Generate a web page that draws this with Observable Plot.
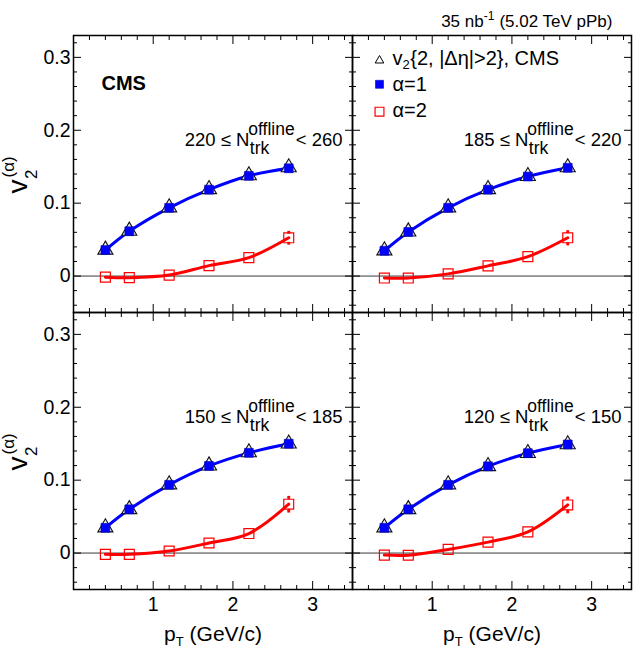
<!DOCTYPE html>
<html>
<head>
<meta charset="utf-8">
<script src="https://cdn.jsdelivr.net/npm/d3@7"></script>
<script src="https://cdn.jsdelivr.net/npm/@observablehq/plot@0.6"></script>
<style>
  html, body { margin: 0; padding: 0; background: #fff; }
  #chart { width: 637px; height: 648px; }
</style>
</head>
<body>
<div id="chart"></div>
<script>
// ---------------- data ----------------
const pT = [0.4, 0.7, 1.2, 1.7, 2.2, 2.7];
const nLow = [220, 185, 150, 120];
const nHigh = [260, 220, 185, 150];

// v2{2, |Δη|>2} CMS (triangles)
const v2CMS = [
  [0.036, 0.062, 0.094, 0.119, 0.138, 0.149],
  [0.035, 0.061, 0.094, 0.119, 0.137, 0.149],
  [0.035, 0.060, 0.094, 0.120, 0.138, 0.150],
  [0.035, 0.060, 0.094, 0.119, 0.137, 0.149]
];
// alpha = 1 (filled blue squares)
const v2Alpha1 = [
  [0.0357, 0.0615, 0.0936, 0.1185, 0.1375, 0.1478],
  [0.0347, 0.0605, 0.0936, 0.1185, 0.1365, 0.1485],
  [0.0346, 0.0600, 0.0936, 0.1195, 0.1375, 0.1500],
  [0.0346, 0.0600, 0.0936, 0.1190, 0.1370, 0.1490]
];
// alpha = 2 (open red squares)
const v2Alpha2 = [
  [-0.0015, -0.0022, 0.0013, 0.0143, 0.0252, 0.0525],
  [-0.0027, -0.0027, 0.0030, 0.0140, 0.0266, 0.0525],
  [-0.0018, -0.0018, 0.0028, 0.0138, 0.0268, 0.0670],
  [-0.0028, -0.0030, 0.0050, 0.0150, 0.0290, 0.0660]
];
const v2Alpha2Err = [
  [0.001, 0.001, 0.001, 0.002, 0.003, 0.0075],
  [0.001, 0.001, 0.001, 0.002, 0.003, 0.0085],
  [0.001, 0.001, 0.001, 0.002, 0.003, 0.0095],
  [0.001, 0.001, 0.001, 0.002, 0.003, 0.0095]
];

const xMajorTicks = [1, 2, 3];
const xTickLabels = ["1", "2", "3"];
const yMajorTicks = [0, 0.1, 0.2, 0.3];
const yTickLabels = ["0", "0.1", "0.2", "0.3"];

// ---------------- helpers ----------------
const FAMILY = '"Liberation Sans", Arial, Helvetica, sans-serif';
const ctx = document.createElement("canvas").getContext("2d");
function tw(text, size, weight = "normal") {
  ctx.font = `${weight} ${size}px ${FAMILY}`;
  return ctx.measureText(text).width;
}

// minor ticks
const xMinorTicks = d3.range(1, 18).map(k => +(k * 0.2).toFixed(2)).filter(v => Math.abs(v - Math.round(v)) > 1e-6);
const yMinorTicks = d3.range(-2, 17).map(k => +(k * 0.02).toFixed(2)).filter(v => Math.abs(v * 10 - Math.round(v * 10)) > 1e-6);

// ---------------- tables ----------------
const rows = [];
nLow.forEach((lo, i) => {
  pT.forEach((x, j) => rows.push({
    panel: i, col: i % 2, row: Math.floor(i / 2), pt: x,
    cms: v2CMS[i][j], a1: v2Alpha1[i][j], a2: v2Alpha2[i][j], e2: v2Alpha2Err[i][j]
  }));
});
const errRows = rows.filter(d => d.e2 > 0.006);

const panels = nLow.map((lo, i) => ({
  col: i % 2, row: Math.floor(i / 2),
  main: `${lo} \u2264 N`, end: `< ${nHigh[i]}`
}));
const topLeft = [{col: 0, row: 0}];
const topRight = [{col: 1, row: 0}];
const leftCol = [{col: 0, row: 0}, {col: 0, row: 1}];
const bottomRow = [{col: 0, row: 1}, {col: 1, row: 1}];

// ---------------- label geometry ----------------
const FS_LAB = 18.5, FS_SUP = 17.5;
const wMain = tw("220 \u2264 N", FS_LAB);
const wSup = tw("offline", FS_SUP);
const wEnd = tw("< 260", FS_LAB);
const labRight = -10;
const labStart = labRight - (wMain + wSup + wEnd);
const labBase = 110;

const FS_X = 21, FS_XS = 13;
const wp = tw("p", FS_X), wT = tw("T", FS_XS), wG = tw(" (GeV/c)", FS_X);
const xTot = wp + wT + wG;

const FS_V = 28, FS_VS = 17;
const wv = tw("v", FS_V);
const vStart = 158;

const FS_LEG = 20, FS_LEGS = 13;
const wLv = tw("v", FS_LEG), wL2 = tw("2", FS_LEGS);

const FS_TOP = 17, FS_TOPS = 12;
const wTopB = tw(" (5.02 TeV pPb)", FS_TOP);
const wTopS = tw("-1", FS_TOPS);
const topRightX = -19, topBase = -9;

const fac = {fx: "col", fy: "row"};

const chart = Plot.plot({
  width: 637,
  height: 648,
  marginLeft: 72,
  marginRight: 6,
  marginTop: 34.5,
  marginBottom: 59,
  x: {domain: [0, 3.5], axis: null},
  y: {domain: [-0.05, 0.33], axis: null},
  fx: {padding: 0, axis: null},
  fy: {padding: 0, axis: null},
  style: {fontFamily: FAMILY, background: "white", overflow: "visible"},
  marks: [
    Plot.ruleY([0], {stroke: "#3a3a3a", strokeWidth: 1}),

    // ticks on all four sides of every panel (pointing inward)
    Plot.axisX({anchor: "bottom", ticks: xMajorTicks, tickSize: -8, fill: "none", stroke: "black", facetAnchor: null, label: null}),
    Plot.axisX({anchor: "bottom", ticks: xMinorTicks, tickSize: -4, fill: "none", stroke: "black", facetAnchor: null, label: null}),
    Plot.axisX({anchor: "top", ticks: xMajorTicks, tickSize: -8, fill: "none", stroke: "black", facetAnchor: null, label: null}),
    Plot.axisX({anchor: "top", ticks: xMinorTicks, tickSize: -4, fill: "none", stroke: "black", facetAnchor: null, label: null}),
    Plot.axisY({anchor: "left", ticks: yMajorTicks, tickSize: -8, fill: "none", stroke: "black", facetAnchor: null, label: null}),
    Plot.axisY({anchor: "left", ticks: yMinorTicks, tickSize: -4, fill: "none", stroke: "black", facetAnchor: null, label: null}),
    Plot.axisY({anchor: "right", ticks: yMajorTicks, tickSize: -8, fill: "none", stroke: "black", facetAnchor: null, label: null}),
    Plot.axisY({anchor: "right", ticks: yMinorTicks, tickSize: -4, fill: "none", stroke: "black", facetAnchor: null, label: null}),

    // tick labels
    Plot.axisX({anchor: "bottom", ticks: xMajorTicks, tickSize: 0, tickPadding: 8, fontSize: 19.5, label: null,
      tickFormat: d => xTickLabels[xMajorTicks.indexOf(d)]}),
    Plot.axisY({anchor: "left", ticks: yMajorTicks, tickSize: 0, tickPadding: 3, fontSize: 19.5, label: null,
      tickFormat: d => yTickLabels[yMajorTicks.indexOf(d)]}),

    // curves
    Plot.line(rows, {x: "pt", y: "a1", z: "panel", ...fac, stroke: "#0000ff", strokeWidth: 3, curve: "catmull-rom"}),
    Plot.line(rows, {x: "pt", y: "a2", z: "panel", ...fac, stroke: "#ff0000", strokeWidth: 3, curve: "catmull-rom"}),

    // error bars (alpha = 2)
    Plot.ruleX(errRows, {x: "pt", y1: d => d.a2 + d.e2, y2: "a2", insetBottom: 5, ...fac, stroke: "#ff0000", strokeWidth: 2}),
    Plot.ruleX(errRows, {x: "pt", y1: "a2", y2: d => d.a2 - d.e2, insetTop: 5, ...fac, stroke: "#ff0000", strokeWidth: 2}),
    Plot.dot(errRows, {x: "pt", y: d => d.a2 + d.e2, ...fac, symbol: "square", r: 1.6, fill: "#ff0000"}),
    Plot.dot(errRows, {x: "pt", y: d => d.a2 - d.e2, ...fac, symbol: "square", r: 1.6, fill: "#ff0000"}),

    // markers
    Plot.dot(rows, {x: "pt", y: "cms", ...fac, symbol: "triangle", r: 5.6, fill: "#f2f2f2", stroke: "#111", strokeWidth: 1.1}),
    Plot.dot(rows, {x: "pt", y: "a1", ...fac, symbol: "square", r: 5, fill: "#0000ff", stroke: "#0000b0", strokeWidth: 0.6}),
    Plot.dot(rows, {x: "pt", y: "a2", ...fac, symbol: "square", r: 5.6, fill: "none", stroke: "#ff0000", strokeWidth: 1.2}),

    Plot.frame({stroke: "black", strokeWidth: 1.5}),

    // panel labels: low ≤ N_trk^offline < high
    Plot.text(panels, {...fac, text: "main", frameAnchor: "top-right", dx: labStart, dy: labBase, textAnchor: "start", lineAnchor: "bottom", fontSize: FS_LAB, fill: "black"}),
    Plot.text(panels, {...fac, text: () => "offline", frameAnchor: "top-right", dx: labStart + wMain - 1, dy: labBase - 10.5, textAnchor: "start", lineAnchor: "bottom", fontSize: FS_SUP, fill: "black"}),
    Plot.text(panels, {...fac, text: () => "trk", frameAnchor: "top-right", dx: labStart + wMain + 0.5, dy: labBase + 8, textAnchor: "start", lineAnchor: "bottom", fontSize: FS_SUP, fill: "black"}),
    Plot.text(panels, {...fac, text: "end", frameAnchor: "top-right", dx: labStart + wMain + wSup, dy: labBase, textAnchor: "start", lineAnchor: "bottom", fontSize: FS_LAB, fill: "black"}),

    // CMS
    Plot.text(topLeft, {...fac, text: () => "CMS", frameAnchor: "top-left", dx: 28, dy: 54, textAnchor: "start", lineAnchor: "bottom", fontSize: 20, fontWeight: "bold", fill: "black"}),

    // legend (top-right panel)
    Plot.dot(topRight, {...fac, frameAnchor: "top-left", dx: 27, dy: 25, symbol: "triangle", r: 3.2, fill: "none", stroke: "black", strokeWidth: 1}),
    Plot.dot(topRight, {...fac, frameAnchor: "top-left", dx: 27, dy: 48.8, symbol: "square", r: 4.5, fill: "#0000ff", stroke: "#0000b0", strokeWidth: 0.6}),
    Plot.dot(topRight, {...fac, frameAnchor: "top-left", dx: 27, dy: 76.2, symbol: "square", r: 5, fill: "none", stroke: "#ff0000", strokeWidth: 1.2}),
    Plot.text(topRight, {...fac, text: () => "v", frameAnchor: "top-left", dx: 40, dy: 29, textAnchor: "start", lineAnchor: "bottom", fontSize: FS_LEG, fill: "black"}),
    Plot.text(topRight, {...fac, text: () => "2", frameAnchor: "top-left", dx: 40 + wLv, dy: 33.5, textAnchor: "start", lineAnchor: "bottom", fontSize: FS_LEGS, fill: "black"}),
    Plot.text(topRight, {...fac, text: () => "{2, |\u0394\u03b7|>2}, CMS", frameAnchor: "top-left", dx: 40 + wLv + wL2 + 0.5, dy: 29, textAnchor: "start", lineAnchor: "bottom", fontSize: FS_LEG, fill: "black"}),
    Plot.text(topRight, {...fac, text: () => "\u03b1=1", frameAnchor: "top-left", dx: 40, dy: 55.5, textAnchor: "start", lineAnchor: "bottom", fontSize: FS_LEG, fill: "black"}),
    Plot.text(topRight, {...fac, text: () => "\u03b1=2", frameAnchor: "top-left", dx: 40, dy: 81.5, textAnchor: "start", lineAnchor: "bottom", fontSize: FS_LEG, fill: "black"}),

    // luminosity label
    Plot.text(topRight, {...fac, text: () => "35 nb", frameAnchor: "top-right", dx: topRightX - wTopB - wTopS, dy: topBase, textAnchor: "end", lineAnchor: "bottom", fontSize: FS_TOP, fill: "black"}),
    Plot.text(topRight, {...fac, text: () => "-1", frameAnchor: "top-right", dx: topRightX - wTopB, dy: topBase - 7, textAnchor: "end", lineAnchor: "bottom", fontSize: FS_TOPS, fill: "black"}),
    Plot.text(topRight, {...fac, text: () => " (5.02 TeV pPb)", frameAnchor: "top-right", dx: topRightX, dy: topBase, textAnchor: "end", lineAnchor: "bottom", fontSize: FS_TOP, fill: "black"}),

    // x axis title: p_T (GeV/c)
    Plot.text(bottomRow, {...fac, text: () => "p", frameAnchor: "bottom", dx: -xTot / 2, dy: 51, textAnchor: "start", lineAnchor: "bottom", fontSize: FS_X, fill: "black"}),
    Plot.text(bottomRow, {...fac, text: () => "T", frameAnchor: "bottom", dx: -xTot / 2 + wp, dy: 56, textAnchor: "start", lineAnchor: "bottom", fontSize: FS_XS, fill: "black"}),
    Plot.text(bottomRow, {...fac, text: () => " (GeV/c)", frameAnchor: "bottom", dx: -xTot / 2 + wp + wT, dy: 51, textAnchor: "start", lineAnchor: "bottom", fontSize: FS_X, fill: "black"}),

    // y axis title: v_2^(α)
    Plot.text(leftCol, {...fac, text: () => "v", frameAnchor: "top-left", dx: -47, dy: vStart, rotate: -90, textAnchor: "start", lineAnchor: "bottom", fontSize: FS_V, fill: "black"}),
    Plot.text(leftCol, {...fac, text: () => "2", frameAnchor: "top-left", dx: -37, dy: vStart - wv - 0.5, rotate: -90, textAnchor: "start", lineAnchor: "bottom", fontSize: FS_VS, fill: "black"}),
    Plot.text(leftCol, {...fac, text: () => "(\u03b1)", frameAnchor: "top-left", dx: -60, dy: vStart - wv - 2, rotate: -90, textAnchor: "start", lineAnchor: "bottom", fontSize: FS_VS, fill: "black"})
  ]
});
document.getElementById("chart").appendChild(chart);
</script>
</body>
</html>
